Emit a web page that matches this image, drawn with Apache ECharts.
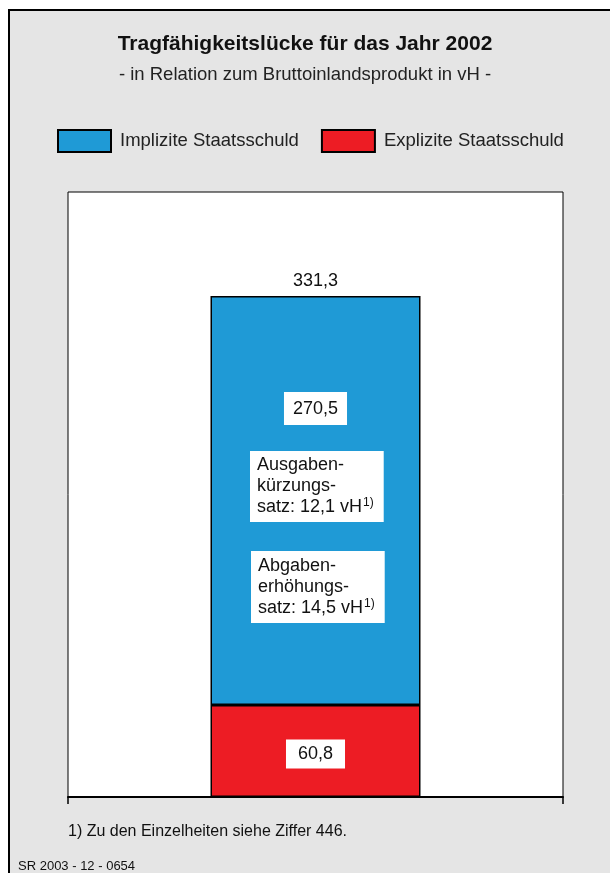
<!DOCTYPE html>
<html>
<head>
<meta charset="utf-8">
<script src="https://cdn.jsdelivr.net/npm/echarts@6/dist/echarts.min.js"></script>
<style>
  html, body { margin: 0; padding: 0; background: #fff; }
  #chart { width: 610px; height: 873px; }
</style>
</head>
<body>
<div id="chart"></div>
<script>
// Daten
var categories = ['2002'];
var seriesNames = ['Implizite Staatsschuld', 'Explizite Staatsschuld'];
var implicitValues = [270.5];
var explicitValues = [60.8];
var totalValues = [331.3];

var FONT = '"Liberation Sans", Arial, Helvetica, sans-serif';

function fmt(v) {
	return v.toFixed(1).replace('.', ',');
}

var chart = echarts.init(document.getElementById('chart'));

var option = {
	backgroundColor: 'transparent',
	textStyle: { fontFamily: FONT },
	title: [
		{
			text: 'Tragfähigkeitslücke für das Jahr 2002',
			left: 'center',
			top: 34,
			padding: 0,
			textStyle: { fontSize: 21, fontWeight: 'bold', color: '#111', fontFamily: FONT }
		},
		{
			text: '- in Relation zum Bruttoinlandsprodukt in vH -',
			left: 'center',
			top: 65,
			padding: 0,
			textStyle: { fontSize: 18.5, fontWeight: 'normal', color: '#222', fontFamily: FONT }
		}
	],
	legend: {
		data: seriesNames,
		left: 57,
		top: 129,
		padding: 0,
		itemWidth: 53,
		itemHeight: 22,
		itemGap: 22,
		icon: 'rect',
		itemStyle: { borderColor: '#000', borderWidth: 2 },
		textStyle: { fontSize: 18.5, color: '#222', fontFamily: FONT, padding: [0, 0, 0, 4] }
	},
	grid: {
		left: 68,
		right: 47,
		top: 192,
		bottom: 76,
		show: true,
		backgroundColor: '#fff',
		borderColor: '#000',
		borderWidth: 1
	},
	xAxis: {
		type: 'category',
		data: categories,
		axisLine: { lineStyle: { color: '#000', width: 2 } },
		axisTick: { show: true, length: 7, lineStyle: { color: '#000', width: 1.5 } },
		axisLabel: { show: false }
	},
	yAxis: {
		type: 'value',
		min: 0,
		max: 400,
		show: false,
		splitLine: { show: false }
	},
	series: [
		{
			name: seriesNames[1],
			type: 'bar',
			stack: 'a',
			data: explicitValues,
			barWidth: 210,
			itemStyle: { color: '#ED1C24', borderColor: '#000', borderWidth: 1.5 },
			label: {
				show: true,
				position: 'inside',
				offset: [0, 3],
				formatter: function (p) { return fmt(p.value); },
				color: '#111',
				fontSize: 18,
				fontFamily: FONT,
				backgroundColor: '#fff',
				padding: [6, 12, 5, 12]
			}
		},
		{
			name: seriesNames[0],
			type: 'bar',
			stack: 'a',
			data: implicitValues,
			barWidth: 210,
			itemStyle: { color: '#1F9AD6', borderColor: '#000', borderWidth: 1.5 },
			label: {
				show: true,
				position: ['50%', 96],
				align: 'center',
				verticalAlign: 'top',
				formatter: function (p) { return fmt(p.value); },
				color: '#111',
				fontSize: 18,
				fontFamily: FONT,
				backgroundColor: '#fff',
				padding: [8, 9, 7, 9]
			}
		},
		{
			name: 'Summe',
			type: 'bar',
			stack: 'a',
			data: [0],
			barWidth: 210,
			itemStyle: { color: 'transparent' },
			label: {
				show: true,
				position: 'top',
				distance: 6,
				formatter: function (p) { return fmt(totalValues[p.dataIndex]); },
				color: '#111',
				fontSize: 18,
				fontFamily: FONT
			}
		}
	],
	graphic: [
		{
			type: 'rect',
			z: -10,
			silent: true,
			shape: { x: 9, y: 10, width: 640, height: 900 },
			style: { fill: '#e5e5e5', stroke: '#000', lineWidth: 2 }
		},
		{
			type: 'text',
			z: 100,
			left: 250,
			top: 451,
			style: {
				text: 'Ausgaben-\nkürzungs-\nsatz: 12,1 vH{sup|1)}',
				fill: '#111',
				font: '18px ' + FONT,
				lineHeight: 21,
				backgroundColor: '#fff',
				padding: [4, 10, 4, 7],
				rich: { sup: { fontSize: 12, fontFamily: FONT, padding: [0, 0, 10, 1], fill: '#111' } }
			}
		},
		{
			type: 'text',
			z: 100,
			left: 251,
			top: 551,
			style: {
				text: 'Abgaben-\nerhöhungs-\nsatz: 14,5 vH{sup|1)}',
				fill: '#111',
				font: '18px ' + FONT,
				lineHeight: 21,
				backgroundColor: '#fff',
				padding: [5, 10, 4, 7],
				rich: { sup: { fontSize: 12, fontFamily: FONT, padding: [0, 0, 10, 1], fill: '#111' } }
			}
		},
		{
			type: 'text',
			left: 68,
			top: 824,
			style: { text: '1) Zu den Einzelheiten siehe Ziffer 446.', fill: '#111', font: '16px ' + FONT }
		},
		{
			type: 'text',
			left: 18,
			top: 860,
			style: { text: 'SR 2003 - 12 - 0654', fill: '#111', font: '13px ' + FONT }
		}
	]
};

chart.setOption(option);
</script>
</body>
</html>
